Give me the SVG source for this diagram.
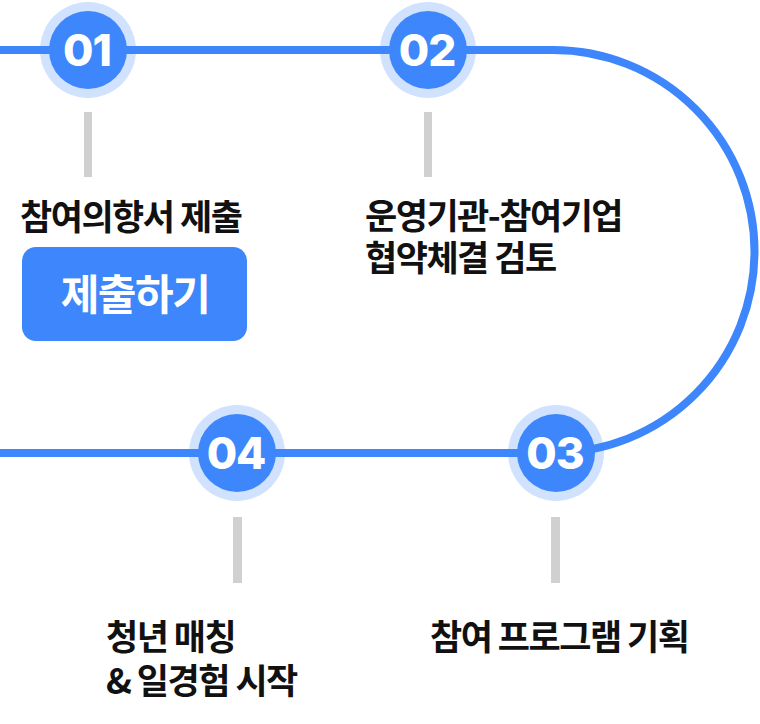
<svg xmlns="http://www.w3.org/2000/svg" width="760" height="724" viewBox="0 0 760 724">
<style>
.track{fill:none;stroke:#3d86fb;stroke-width:8}
.halo{fill:#3d86fb;fill-opacity:0.24}
.dot{fill:#3d86fb}
.num{font-family:Inter,"Liberation Sans",sans-serif;font-weight:800;font-size:44px;fill:#fff;text-anchor:middle;letter-spacing:-1px}
.tick{fill:#d0d0d0}
.lbl{font-family:"Noto Sans CJK KR","Noto Sans",sans-serif;font-weight:700;font-size:35px;fill:#111;letter-spacing:-1.5px}
.btn{fill:#3d86fb}
.btnt{font-family:"Noto Sans CJK KR","Noto Sans",sans-serif;font-weight:700;font-size:42px;fill:#fff;text-anchor:middle;letter-spacing:-1.5px}
</style>
<rect width="760" height="724" fill="#fff"/>
<g id="connectors">
<path class="track" d="M0,50 H553 A201.5,201.5 0 0 1 553,453 H0"/>
</g>
<g id="step01">
<circle class="halo" cx="88" cy="50" r="48"/>
<circle class="dot" cx="88" cy="50" r="39"/>
<text class="num" x="87" y="66">01</text>
<rect class="tick" x="84" y="112" width="8" height="65"/>
<text class="lbl" x="20" y="230">참여의향서 제출</text>
</g>
<g id="submit-button">
<rect class="btn" x="22" y="247" width="225" height="94" rx="14"/>
<text class="btnt" x="135" y="310">제출하기</text>
</g>
<g id="step02">
<circle class="halo" cx="428" cy="50" r="48"/>
<circle class="dot" cx="428" cy="50" r="39"/>
<text class="num" x="427" y="66">02</text>
<rect class="tick" x="424" y="112" width="8" height="65"/>
<text class="lbl" x="365" y="229">운영기관-참여기업</text>
<text class="lbl" x="365" y="271">협약체결 검토</text>
</g>
<g id="step03">
<circle class="halo" cx="556" cy="453" r="48"/>
<circle class="dot" cx="556" cy="453" r="39"/>
<text class="num" x="555" y="469">03</text>
<rect class="tick" x="551" y="517" width="9" height="66"/>
<text class="lbl" x="430" y="650">참여 프로그램 기획</text>
</g>
<g id="step04">
<circle class="halo" cx="237" cy="453" r="48"/>
<circle class="dot" cx="237" cy="453" r="39"/>
<text class="num" x="236" y="469">04</text>
<rect class="tick" x="233" y="517" width="9" height="66"/>
<text class="lbl" x="106" y="650">청년 매칭</text>
<text class="lbl" x="106" y="694">&amp; 일경험 시작</text>
</g>
</svg>
